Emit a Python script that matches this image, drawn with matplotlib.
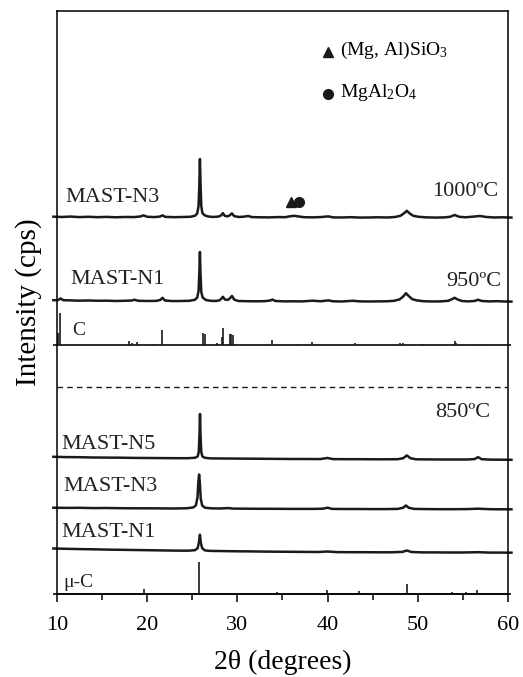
import matplotlib
matplotlib.use('Agg')
from matplotlib import pyplot as plt

plt.rcParams['font.family'] = ['Liberation Serif', 'DejaVu Serif']
plt.rcParams['mathtext.fontset'] = 'custom'
plt.rcParams['mathtext.rm'] = 'Liberation Serif'

# measured patterns (2theta, intensity above own baseline)
n3_1000 = [(9.6, 1.3), (10.5, 1.0), (11.5, 1.4), (12.5, 0.9), (13.5, 1.2), (14.5, 0.8), (15.5, 1.1),
           (16.5, 0.7), (17.5, 1.0), (18.5, 0.9), (19.2, 1.4), (19.6, 2.6), (20.0, 1.2), (20.8, 0.9),
           (21.4, 1.4), (21.7, 2.6), (22.0, 1.1), (23.0, 0.8), (24.0, 1.0), (24.8, 1.2), (25.3, 2.2),
           (25.55, 4.5), (25.7, 12), (25.78, 32), (25.85, 59), (25.92, 34), (26.0, 12), (26.12, 5),
           (26.35, 2.8), (26.7, 1.6), (27.3, 1.0), (27.9, 1.4), (28.2, 2.6), (28.4, 4.8), (28.6, 2.2),
           (28.9, 1.6), (29.15, 2.6), (29.4, 4.6), (29.65, 1.8), (30.2, 1.0), (30.8, 1.4), (31.2, 2.0),
           (31.6, 0.9), (32.5, 0.7), (33.5, 0.6), (34.5, 0.9), (35.3, 0.8), (35.8, 1.6), (36.3, 2.2),
           (36.8, 1.5), (37.4, 0.8), (38.3, 0.6), (39.2, 0.9), (40.1, 1.6), (40.6, 0.6), (41.6, 0.5),
           (42.6, 0.8), (43.6, 0.4), (44.6, 0.5), (45.6, 0.7), (46.6, 0.5), (47.5, 1.0), (48.1, 2.2),
           (48.5, 4.8), (48.8, 7.2), (49.1, 4.6), (49.5, 2.2), (50.1, 1.2), (51.0, 0.6), (52.0, 0.4),
           (53.0, 0.6), (53.6, 1.2), (54.1, 3.0), (54.6, 1.2), (55.3, 0.7), (56.1, 1.3), (56.9, 2.0),
           (57.6, 1.0), (58.5, 0.5), (59.4, 0.7), (60.4, 0.4)]

n1_950 = [(9.6, 1.8), (10.1, 1.8), (10.4, 3.5), (10.7, 1.8), (11.5, 1.6), (12.5, 1.3), (13.5, 1.5),
          (14.5, 1.2), (15.5, 1.3), (16.5, 1.0), (17.5, 1.2), (18.3, 1.5), (18.6, 2.2), (19.0, 1.2),
          (20.0, 1.0), (21.0, 1.1), (21.45, 2.0), (21.7, 4.2), (21.95, 1.5), (22.8, 0.9), (23.8, 1.0),
          (24.7, 1.2), (25.3, 2.2), (25.55, 4.5), (25.7, 11), (25.78, 28), (25.85, 50), (25.92, 27),
          (26.0, 10), (26.15, 4.5), (26.3, 3.5), (26.5, 2.0), (27.0, 1.2), (27.6, 1.0), (28.0, 1.6),
          (28.2, 3.0), (28.4, 5.2), (28.6, 2.6), (28.9, 2.0), (29.15, 3.4), (29.4, 6.0), (29.65, 2.4),
          (30.1, 1.0), (31.0, 0.8), (32.0, 0.7), (33.0, 0.8), (33.6, 1.4), (33.9, 2.4), (34.2, 1.0),
          (35.2, 0.6), (36.2, 0.7), (37.2, 0.6), (38.4, 1.3), (39.2, 0.7), (40.1, 1.6), (40.6, 0.7),
          (41.6, 0.5), (42.8, 1.2), (43.6, 0.6), (44.6, 0.5), (45.6, 0.6), (46.6, 0.7), (47.4, 1.2),
          (48.0, 2.6), (48.4, 5.5), (48.7, 8.8), (49.0, 6.0), (49.4, 2.8), (49.9, 1.6), (50.6, 0.8),
          (51.6, 0.5), (52.6, 0.6), (53.4, 1.2), (53.8, 2.8), (54.1, 4.2), (54.4, 2.6), (54.9, 1.0),
          (55.6, 0.6), (56.3, 1.0), (56.7, 2.2), (57.1, 1.0), (57.9, 0.6), (58.8, 0.8), (59.6, 0.5),
          (60.4, 0.4)]

n5_850 = [(9.6, 3.2), (11, 2.9), (12.5, 2.8), (14, 2.5), (15.5, 2.4), (17, 2.3), (18.5, 2.1), (20, 2.0),
          (21.5, 1.9), (23, 1.8), (24.5, 1.8), (25.3, 2.2), (25.6, 3.5), (25.72, 8), (25.8, 25),
          (25.86, 46), (25.92, 24), (26.0, 8), (26.12, 3.5), (26.4, 2.2), (27.0, 1.6), (28.5, 1.5),
          (30, 1.4), (31.5, 1.3), (33, 1.2), (34.5, 1.1), (36, 1.0), (37.5, 1.0), (39.2, 0.9),
          (40.0, 2.0), (40.6, 0.9), (42, 0.8), (43.5, 0.8), (45, 0.7), (46.5, 0.7), (47.8, 0.8),
          (48.4, 1.8), (48.8, 4.6), (49.2, 1.8), (49.8, 0.7), (51, 0.6), (52.5, 0.5), (54, 0.5),
          (55.5, 0.5), (56.3, 0.9), (56.7, 2.8), (57.1, 0.8), (58, 0.4), (59, 0.3), (60.4, 0.2)]

n3_850 = [(9.6, 1.8), (11, 1.6), (12.5, 1.7), (14, 1.4), (15.5, 1.5), (17, 1.3), (18.5, 1.2), (20, 1.2),
          (21.5, 1.1), (23, 1.0), (24.3, 1.2), (25.1, 2.0), (25.4, 4), (25.58, 12), (25.68, 28),
          (25.76, 35), (25.84, 27), (25.94, 11), (26.1, 4), (26.4, 1.8), (27, 1.2), (28, 1.0),
          (29, 1.4), (29.5, 0.9), (31, 0.8), (32.5, 0.7), (34, 0.7), (35.5, 0.6), (37, 0.6),
          (38.5, 0.6), (39.5, 0.8), (40.0, 1.8), (40.5, 0.6), (42, 0.5), (43.5, 0.5), (45, 0.4),
          (46.5, 0.4), (47.8, 0.6), (48.4, 1.8), (48.7, 4.0), (49.0, 1.8), (49.6, 0.6), (51, 0.4),
          (52.5, 0.3), (54, 0.3), (55.5, 0.4), (56.7, 0.8), (58, 0.3), (59, 0.2), (60.4, 0.2)]

n1_850 = [(9.6, 4.2), (11, 3.9), (12.5, 3.6), (14, 3.4), (15.5, 3.1), (17, 2.9), (18.5, 2.7), (20, 2.5),
          (21.5, 2.3), (23, 2.1), (24.5, 2.0), (25.3, 2.5), (25.6, 4.5), (25.75, 11), (25.85, 18),
          (25.95, 10), (26.1, 4.5), (26.4, 2.3), (27, 1.8), (28.5, 1.6), (30, 1.4), (31.5, 1.3),
          (33, 1.1), (34.5, 1.0), (36, 0.9), (37.5, 0.8), (39, 0.7), (40.0, 1.2), (41, 0.6),
          (42.5, 0.5), (44, 0.5), (45.5, 0.4), (47, 0.4), (48.3, 0.8), (48.8, 2.2), (49.3, 0.7),
          (50.5, 0.3), (52, 0.3), (53.5, 0.2), (55, 0.2), (56.7, 0.5), (58, 0.1), (59, 0.1), (60.4, 0.0)]

# reference sticks
c_pos = [10.15, 10.35, 18.0, 18.3, 18.9, 20.8, 21.6, 26.2, 26.38, 27.7, 28.25, 28.42, 29.15, 29.3, 29.5,
         33.8, 36.7, 38.3, 39.0, 43.0, 48.0, 48.4, 50.6, 54.1, 54.3, 56.9]
c_int = [12, 32, 4, 2, 3, 1, 15, 12, 11, 2, 8, 17, 11, 11, 10, 5, 1, 3, 1, 2, 1.5, 2, 1, 4, 2, 1]

muc_pos = [19.65, 25.8, 34.4, 39.2, 39.95, 43.5, 48.8, 53.8, 55.4, 56.6]
muc_int = [5, 32, 2, 1, 4, 3, 10, 2, 1.5, 4]

traces = [n3_1000, n1_950, n5_850, n3_850, n1_850]
offsets = [376, 292, 134, 84.5, 41.3]
names = ['MAST-N3', 'MAST-N1', 'MAST-N5', 'MAST-N3', 'MAST-N1']
name_xy = [(10.9, 396), (11.45, 314), (10.45, 149), (10.7, 107), (10.45, 61)]

fig = plt.figure(figsize=(5.23, 6.77), dpi=100)
ax = fig.add_axes([0.109, 0.1226, 0.862, 0.8612])

for tr, off, nm, (tx, ty) in zip(traces, offsets, names, name_xy):
    xs = [p[0] for p in tr]
    ys = [p[1] + off for p in tr]
    ax.plot(xs, ys, color='#1a1a1a', lw=1.8, clip_on=False, solid_joinstyle='round')
    ax.text(tx, ty, nm, fontsize=16, va='center', ha='left', color='#222222')

# C and mu-C sticks
c_off = 249
ax.hlines(c_off, 9.6, 60.4, color='#1a1a1a', lw=1.3, clip_on=False)
ax.vlines(c_pos, c_off, [c_off + v for v in c_int], color='#1a1a1a', lw=1.2)
ax.text(11.7, 263, 'C', fontsize=14, va='center', ha='left', color='#222222')

ax.hlines(0, 9.6, 60.4, color='#1a1a1a', lw=1.3, clip_on=False)
ax.vlines(muc_pos, 0, muc_int, color='#1a1a1a', lw=1.2)
ax.text(10.75, 11, 'μ-C', fontsize=14, va='center', ha='left', color='#222222')

# separator between 950/1000 and 850
ax.axhline(207, color='#1a1a1a', lw=1.0, ls=(0, (4, 3)))

ax.text(58.9, 402, '1000ºC', fontsize=16, ha='right', va='center', color='#222222')
ax.text(59.3, 312, '950ºC', fontsize=16, ha='right', va='center', color='#222222')
ax.text(58.0, 181, '850ºC', fontsize=16, ha='right', va='center', color='#222222')

# phase markers
ax.plot([35.9], [391.5], marker='^', ms=7, color='#1a1a1a', ls='none')
ax.plot([36.8], [391.5], marker='o', ms=7, color='#1a1a1a', ls='none')
ax.plot([40.05], [542], marker='^', ms=7, color='#1a1a1a', ls='none')
ax.plot([40.05], [500], marker='o', ms=7, color='#1a1a1a', ls='none')
ax.text(41.4, 544, r'(Mg, Al)SiO$\mathregular{_3}$', fontsize=14, va='center', ha='left')
ax.text(41.4, 501, r'MgAl$\mathregular{_2}$O$\mathregular{_4}$', fontsize=14, va='center', ha='left')

ax.set_xlim(10, 60)
ax.set_ylim(0, 583)
ax.set_xticks([10, 20, 30, 40, 50, 60])
ax.set_xticks([15, 25, 35, 45, 55], minor=True)
ax.set_yticks([])
ax.tick_params(axis='x', which='major', direction='out', length=6, width=1.1, labelsize=16, pad=9.5)
ax.tick_params(axis='x', which='minor', direction='out', length=4, width=1.1)
for sp in ax.spines.values():
    sp.set_linewidth(1.1)
ax.set_xlabel('2θ (degrees)', fontsize=20, labelpad=11)
ax.set_ylabel('Intensity (cps)', fontsize=21, labelpad=11)

plt.savefig('out.png', dpi=100)
